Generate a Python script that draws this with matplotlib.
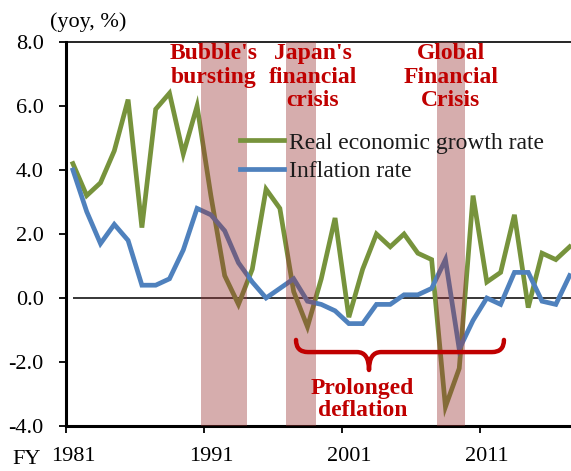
import matplotlib
matplotlib.use("Agg")
import matplotlib.pyplot as plt
from matplotlib.path import Path
from matplotlib.patches import PathPatch

years = list(range(1981, 2018))
growth = [4.2, 3.2, 3.6, 4.6, 6.2, 2.2, 5.9, 6.4, 4.5, 6.0,
          3.2, 0.7, -0.2, 0.9, 3.4, 2.8, 0.2, -0.9, 0.6, 2.5,
          -0.6, 0.9, 2.0, 1.6, 2.0, 1.4, 1.2, -3.4, -2.2, 3.2,
          0.5, 0.8, 2.6, -0.3, 1.4, 1.2, 1.6]
inflation = [4.0, 2.7, 1.7, 2.3, 1.8, 0.4, 0.4, 0.6, 1.5, 2.8,
             2.6, 2.1, 1.1, 0.5, 0.0, 0.3, 0.6, -0.1, -0.2, -0.4,
             -0.8, -0.8, -0.2, -0.2, 0.1, 0.1, 0.3, 1.2, -1.6, -0.7,
             0.0, -0.2, 0.8, 0.8, -0.1, -0.2, 0.7]
series_labels = ["Real economic growth rate", "Inflation rate"]
tick_years = [1981, 1991, 2001, 2011]
y_ticks = [-4.0, -2.0, 0.0, 2.0, 4.0, 6.0, 8.0]
crisis_spans = [(1990.3, 1993.6), (1996.45, 1998.65), (2007.4, 2009.4)]
crisis_labels = ["Bubble's\nbursting", "Japan's\nfinancial\ncrisis", "Global\nFinancial\nCrisis"]
crisis_label_x = [1991.2, 1998.4, 2008.4]
deflation_span = (1997.17, 2002.46, 2012.24)

SERIF = "Liberation Serif"
GREEN = "#77933C"
BLUE = "#4F81BD"
RED = "#C00000"

W, H = 571, 471
fig = plt.figure(figsize=(W / 100, H / 100), dpi=100)
ax = fig.add_axes([66 / W, 45 / H, 505 / W, 384 / H])

ax.plot(years, growth, color=GREEN, lw=3.4, label=series_labels[0], zorder=3,
        solid_joinstyle="miter")
ax.plot(years, inflation, color=BLUE, lw=3.4, label=series_labels[1], zorder=4,
        solid_joinstyle="miter")
ax.hlines(0, years[0], 2017.2, color="black", lw=1.1, zorder=2)

for (a, b) in crisis_spans:
    ax.axvspan(a, b, color=(0.6, 0.2, 0.2), alpha=0.40, lw=0, zorder=5)

for lbl, x in zip(crisis_labels, crisis_label_x):
    ax.text(x, 7.97, lbl, ha="center", va="top", color=RED, fontsize=17,
            fontweight="bold", family=SERIF, linespacing=1.17, zorder=6)

# brace for prolonged deflation
x0, xt, x1 = deflation_span
ytop, yh, ytip = -1.31, -1.69, -2.25
rx = 0.87
verts = [(x0, ytop), (x0, yh), (x0 + rx, yh), (xt - rx, yh),
         (xt, yh), (xt, ytip), (xt, yh), (xt + rx, yh),
         (x1 - rx, yh), (x1, yh), (x1, ytop)]
codes = [Path.MOVETO, Path.CURVE3, Path.CURVE3, Path.LINETO,
         Path.CURVE3, Path.CURVE3, Path.CURVE3, Path.CURVE3,
         Path.LINETO, Path.CURVE3, Path.CURVE3]
ax.add_patch(PathPatch(Path(verts, codes), fill=False, edgecolor=RED, lw=3.2,
                       capstyle="round", joinstyle="round", zorder=6))
ax.text(xt - 0.45, -3.18, "Prolonged\ndeflation", ha="center", va="center",
        color=RED, fontsize=17, fontweight="bold", family=SERIF,
        linespacing=1.08, zorder=6)

ax.set_xlim(1980.5, 2017.1)
ax.set_ylim(-4, 8)

ax.set_xticks([y - 0.5 for y in tick_years])
ax.set_xticklabels([])
ax.set_xticks(tick_years, minor=True)
ax.set_xticklabels([str(y) for y in tick_years], minor=True, family=SERIF, fontsize=16)
ax.tick_params(axis="x", which="major", direction="out", length=5, width=1.3)
ax.tick_params(axis="x", which="minor", length=0, pad=15)

ax.set_yticks(y_ticks)
ax.set_yticklabels([f"{v:.1f}" for v in y_ticks], family=SERIF, fontsize=16)
ax.tick_params(axis="y", direction="out", length=5, width=1.3, pad=11)

for s in ["left", "bottom"]:
    ax.spines[s].set_linewidth(2.2)
ax.spines["top"].set_linewidth(1.2)
ax.spines["right"].set_visible(False)

leg = ax.legend(loc="center left", bbox_to_anchor=(240 / W, 1 - 157 / H),
                bbox_transform=fig.transFigure, frameon=False, borderpad=0,
                borderaxespad=0, handlelength=1.87, handletextpad=0.2,
                labelspacing=0.28, prop={"family": SERIF, "size": 17})
for t in leg.get_texts():
    t.set_color("#1a1a1a")

fig.text(50 / W, 1 - 22 / H, "(yoy, %)", ha="left", va="center",
         family=SERIF, fontsize=16)
fig.text(12 / W, 2 / H, "FY", ha="left", va="bottom",
         family=SERIF, fontsize=16)

fig.savefig("out.png", dpi=100)
